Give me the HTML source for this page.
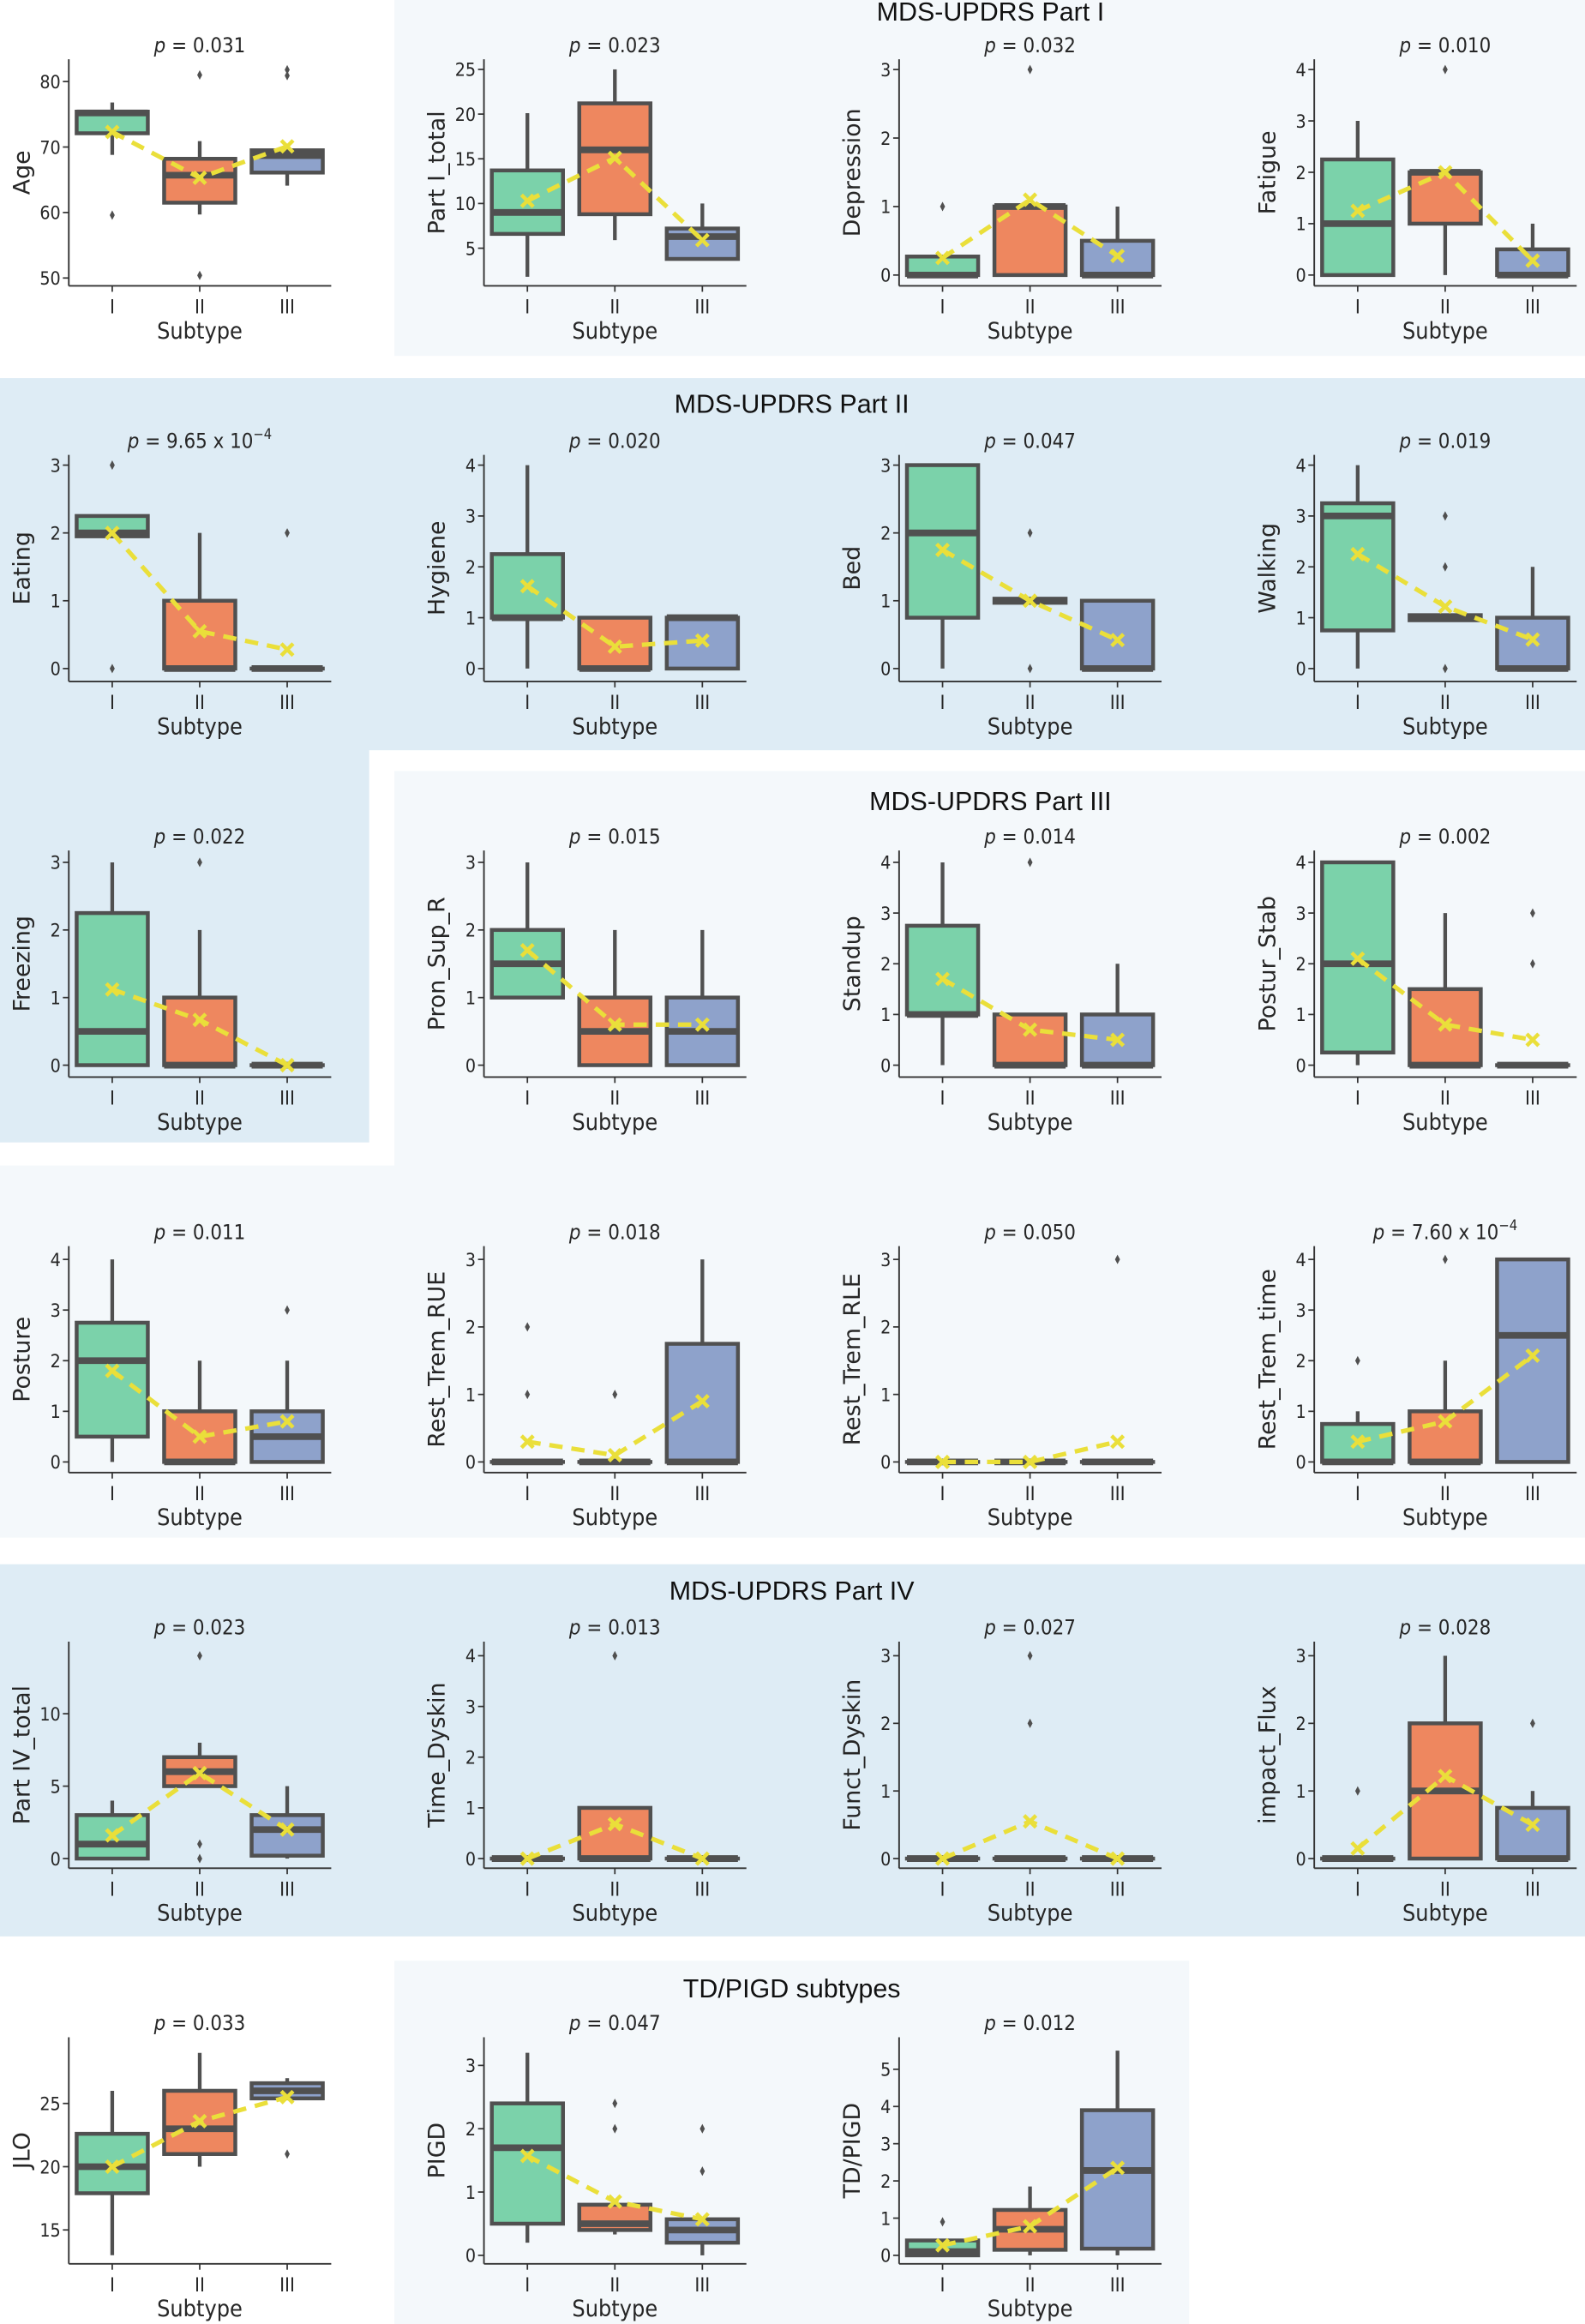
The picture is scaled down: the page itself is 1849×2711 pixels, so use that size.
<!DOCTYPE html>
<html><head><meta charset="utf-8">
<style>
html,body{margin:0;padding:0;background:#fff;}
svg{display:block;}
.t{font-family:"DejaVu Sans Condensed","Liberation Sans Narrow","Liberation Sans",sans-serif;fill:#262626;}
.yl{font-family:"DejaVu Sans","Liberation Sans",sans-serif;fill:#262626;font-size:15.5px;}
.ti{font-family:"Liberation Sans",sans-serif;fill:#111;font-size:17.6px;}
</style></head>
<body>
<svg id="s" xmlns="http://www.w3.org/2000/svg" width="1849" height="2711" viewBox="0 0 1069 1567.4" preserveAspectRatio="none">
<rect x="0" y="0" width="1069" height="1567.4" fill="#ffffff"/>
<rect x="266" y="0" width="803" height="240" fill="#f4f8fb"/>
<rect x="0" y="255" width="1069" height="251" fill="#deecf5"/>
<rect x="0" y="505" width="249" height="265.5" fill="#deecf5"/>
<rect x="266" y="520" width="803" height="517" fill="#f4f8fb"/>
<rect x="0" y="786" width="266" height="251" fill="#f4f8fb"/>
<rect x="0" y="1055" width="1069" height="251" fill="#deecf5"/>
<rect x="266" y="1322.4" width="536" height="245" fill="#f4f8fb"/>
<text class="ti" x="668" y="14" text-anchor="middle">MDS-UPDRS Part I</text>
<text class="ti" x="534" y="278.5" text-anchor="middle">MDS-UPDRS Part II</text>
<text class="ti" x="668" y="546.4" text-anchor="middle">MDS-UPDRS Part III</text>
<text class="ti" x="534" y="1079" text-anchor="middle">MDS-UPDRS Part IV</text>
<text class="ti" x="534" y="1347" text-anchor="middle">TD/PIGD subtypes</text>
<g id="g"></g>
</svg>
<script>
var Z=[185.5,450.9,718.4,986,1253.5,1521.1];
var S=[138.6,137.2,136.8,136.6,136.8,137];
function B(q1,q3,med,lo,hi,out,mean){return {q1:q1,q3:q3,med:med,lo:lo,hi:hi,out:out,mean:mean};}
function rng(n){var a=[];for(var i=0;i<=n;i++)a.push(i);return a;}
var P=[
{r:0,c:0,l:"Age",p:"0.031",m:[408.35,4.417],t:[50,60,70,80],b:[B(72.1,75.4,75.2,68.8,76.8,[59.6],72.3),B(61.5,68.2,65.7,59.7,70.9,[81,50.4],65.3),B(66.1,69.5,68.7,64.1,69.5,[81.8,80.9],70.1)]},
{r:0,c:1,l:"Part I_total",p:"0.023",m:[197.55,6.03],t:[5,10,15,20,25],b:[B(6.6,13.7,9,1.8,20.1,[],10.3),B(8.8,21.2,16,5.9,25,[],15.1),B(3.8,7.2,6.3,3.8,10,[],5.9)]},
{r:0,c:2,l:"Depression",p:"0.032",T:3,b:[B(0,0.27,0,0,0.27,[1],0.25),B(0,1,1,0,1,[3],1.1),B(0,0.5,0,0,1,[],0.28)]},
{r:0,c:3,l:"Fatigue",p:"0.010",T:4,b:[B(0,2.25,1,0,3,[],1.25),B(1,2,2,0,2,[4],2.0),B(0,0.5,0,0,1,[],0.28)]},
{r:1,c:0,l:"Eating",p:"9.65 x 10",e:"\u22124",T:3,b:[B(1.95,2.25,2,1.95,2.25,[3,0],2.0),B(0,1,0,0,2,[],0.55),B(0,0,0,0,0,[2],0.28)]},
{r:1,c:1,l:"Hygiene",p:"0.020",T:4,b:[B(1,2.25,1,0,4,[],1.62),B(0,1,0,0,1,[],0.43),B(0,1,1,0,1,[],0.55)]},
{r:1,c:2,l:"Bed",p:"0.047",T:3,b:[B(0.75,3,2,0,3,[],1.75),B(0.97,1.03,1,0.97,1.03,[2,0],1.0),B(0,1,0,0,1,[],0.42)]},
{r:1,c:3,l:"Walking",p:"0.019",T:4,b:[B(0.75,3.25,3,0,4,[],2.25),B(0.95,1.05,1,0.95,1.05,[3,2,0],1.22),B(0,1,0,0,2,[],0.57)]},
{r:2,c:0,l:"Freezing",p:"0.022",T:3,b:[B(0,2.25,0.5,0,3,[],1.12),B(0,1,0,0,2,[3],0.67),B(0,0,0,0,0,[],0)]},
{r:2,c:1,l:"Pron_Sup_R",p:"0.015",T:3,b:[B(1,2,1.5,1,3,[],1.7),B(0,1,0.5,0,2,[],0.6),B(0,1,0.5,0,2,[],0.6)]},
{r:2,c:2,l:"Standup",p:"0.014",T:4,b:[B(1,2.75,1,0,4,[],1.7),B(0,1,0,0,1,[4],0.7),B(0,1,0,0,2,[],0.5)]},
{r:2,c:3,l:"Postur_Stab",p:"0.002",T:4,b:[B(0.25,4,2,0,4,[],2.1),B(0,1.5,0,0,3,[],0.8),B(0,0,0,0,0,[3,2],0.5)]},
{r:3,c:0,l:"Posture",p:"0.011",T:4,b:[B(0.5,2.75,2,0,4,[],1.8),B(0,1,0,0,2,[],0.5),B(0,1,0.5,0,2,[3],0.8)]},
{r:3,c:1,l:"Rest_Trem_RUE",p:"0.018",T:3,b:[B(0,0,0,0,0,[2,1],0.3),B(0,0,0,0,0,[1],0.1),B(0,1.75,0,0,3,[],0.9)]},
{r:3,c:2,l:"Rest_Trem_RLE",p:"0.050",T:3,b:[B(0,0,0,0,0,[],0),B(0,0,0,0,0,[],0),B(0,0,0,0,0,[3],0.3)]},
{r:3,c:3,l:"Rest_Trem_time",p:"7.60 x 10",e:"\u22124",T:4,b:[B(0,0.75,0,0,1,[2],0.4),B(0,1,0,0,2,[4],0.8),B(0,4,2.5,0,4,[],2.1)]},
{r:4,c:0,l:"Part IV_total",p:"0.023",m:[1253.5,9.77],t:[0,5,10],b:[B(0,3,1,0,4,[],1.6),B(5,7,6,5,8,[14,1,0],5.9),B(0.2,3,2,0,5,[],2.0)]},
{r:4,c:1,l:"Time_Dyskin",p:"0.013",T:4,b:[B(0,0,0,0,0,[],0),B(0,1,0,0,1,[4],0.68),B(0,0,0,0,0,[],0)]},
{r:4,c:2,l:"Funct_Dyskin",p:"0.027",T:3,b:[B(0,0,0,0,0,[],0),B(0,0,0,0,0,[3,2],0.55),B(0,0,0,0,0,[],0)]},
{r:4,c:3,l:"impact_Flux",p:"0.028",T:3,b:[B(0,0,0,0,0,[1],0.15),B(0,2,1,0,3,[],1.22),B(0,0.75,0,0,1,[2],0.5)]},
{r:5,c:0,l:"JLO",p:"0.033",m:[1631.9,8.53],t:[15,20,25],b:[B(17.9,22.6,20,13,26,[],20),B(21,26,23,20,29,[],23.6),B(25.4,26.6,26,25.4,27,[21],25.5)]},
{r:5,c:1,l:"PIGD",p:"0.047",m:[1521.1,42.7],t:[0,1,2,3],b:[B(0.5,2.4,1.7,0.2,3.2,[],1.57),B(0.4,0.8,0.5,0.33,0.8,[2.4,2],0.85),B(0.2,0.57,0.4,0,0.57,[2,1.33],0.57)]},
{r:5,c:2,l:"TD/PIGD",p:"0.012",m:[1521.1,25.1],t:[0,1,2,3,4,5],b:[B(0,0.4,0.1,0,0.4,[0.9],0.27),B(0.15,1.22,0.7,0,1.85,[],0.78),B(0.18,3.9,2.28,0,5.5,[],2.35)]}
];
var COL=["#7bd2aa","#ee875f","#8ea2cb"],G="#505050",Y="#eadf3a";
var h="";
P.forEach(function(p){
  var a,b,ticks;
  if(p.m){a=p.m[0];b=p.m[1];ticks=p.t;} else {a=Z[p.r];b=S[p.r]/p.T;ticks=rng(p.T);}
  function y(v){return a-b*v;}
  var L=46.4+p.c*280,R=L+177,top=40+p.r*266.8,bot=192.8+p.r*266.8;
  var cx=[L+29.3,L+88.3,L+147.3];
  h+='<line x1="'+L+'" y1="'+top+'" x2="'+L+'" y2="'+bot+'" stroke="#333" stroke-width="1.1"/>';
  h+='<line x1="'+L+'" y1="'+bot+'" x2="'+R+'" y2="'+bot+'" stroke="#333" stroke-width="1.1"/>';
  ticks.forEach(function(v){var yy=y(v);
    h+='<line x1="'+(L-4)+'" y1="'+yy+'" x2="'+L+'" y2="'+yy+'" stroke="#333" stroke-width="1"/>';
    h+='<text class="t" x="'+(L-5.5)+'" y="'+(yy+4.5)+'" font-size="12.3" text-anchor="end">'+v+'</text>';});
  ["I","II","III"].forEach(function(s,i){
    h+='<line x1="'+cx[i]+'" y1="'+bot+'" x2="'+cx[i]+'" y2="'+(bot+4)+'" stroke="#333" stroke-width="1"/>';
    h+='<text class="t" x="'+cx[i]+'" y="'+(bot+18.5)+'" font-size="13" text-anchor="middle">'+s+'</text>';});
  h+='<text class="t" x="'+cx[1]+'" y="'+(bot+35.5)+'" font-size="15.5" text-anchor="middle">Subtype</text>';
  var my=(top+bot)/2;
  h+='<text class="yl" transform="translate('+(L-26.5)+','+my+') rotate(-90)" text-anchor="middle">'+p.l+'</text>';
  var pt='<tspan font-style="italic">p</tspan> = '+p.p+(p.e?'<tspan font-size="9.5" dy="-6">'+p.e+'</tspan>':'');
  h+='<text class="t" x="'+cx[1]+'" y="'+(top-4.8)+'" font-size="13.8" text-anchor="middle">'+pt+'</text>';
  p.b.forEach(function(d,i){
    var x=cx[i],w=48,x0=x-w/2;
    if(d.hi>d.q3) h+='<line x1="'+x+'" y1="'+y(d.hi)+'" x2="'+x+'" y2="'+y(d.q3)+'" stroke="'+G+'" stroke-width="2.5"/>';
    if(d.lo<d.q1) h+='<line x1="'+x+'" y1="'+y(d.lo)+'" x2="'+x+'" y2="'+y(d.q1)+'" stroke="'+G+'" stroke-width="2.5"/>';
    var yt=y(d.q3),yb=y(d.q1);
    h+='<rect x="'+x0+'" y="'+yt+'" width="'+w+'" height="'+Math.max(0.01,yb-yt)+'" fill="'+COL[i]+'" stroke="'+G+'" stroke-width="2.6"/>';
    h+='<line x1="'+x0+'" y1="'+y(d.med)+'" x2="'+(x0+w)+'" y2="'+y(d.med)+'" stroke="'+G+'" stroke-width="4.5"/>';
    d.out.forEach(function(o){var oy=y(o);
      h+='<path d="M'+x+' '+(oy-3.2)+'L'+(x+1.7)+' '+oy+'L'+x+' '+(oy+3.2)+'L'+(x-1.7)+' '+oy+'Z" fill="'+G+'"/>';});
  });
  var pts=p.b.map(function(d,i){return cx[i]+','+y(d.mean);}).join(' ');
  h+='<polyline points="'+pts+'" fill="none" stroke="'+Y+'" stroke-width="3" stroke-dasharray="9 6"/>';
  p.b.forEach(function(d,i){var mx=cx[i],my2=y(d.mean),s=4;
    h+='<path d="M'+(mx-s)+' '+(my2-s)+'L'+(mx+s)+' '+(my2+s)+'M'+(mx-s)+' '+(my2+s)+'L'+(mx+s)+' '+(my2-s)+'" stroke="'+Y+'" stroke-width="2.6"/>';});
});
document.getElementById("g").innerHTML=h;
</script>
</body></html>
